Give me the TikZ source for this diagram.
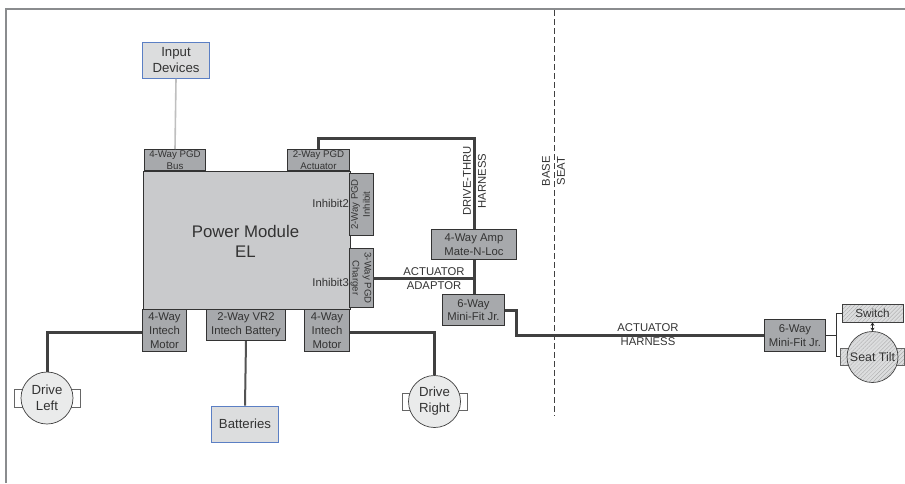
\documentclass[tikz,border=0pt]{standalone}
\usepackage{fontspec}
\setmainfont{Liberation Sans}
\usetikzlibrary{patterns.meta,arrows.meta}
\definecolor{txt}{HTML}{333333}
\definecolor{wire}{HTML}{404040}
\definecolor{conn}{HTML}{A7A9AC}
\definecolor{pm}{HTML}{C9CACC}
\definecolor{soft}{HTML}{DCDDDE}
\definecolor{edgeblue}{HTML}{5B7FC4}
\definecolor{frameg}{HTML}{8A8C8E}
\newcommand{\rottext}[2]{\rotatebox{#1}{\fontsize{9.6}{12}\selectfont\begin{tabular}{@{}c@{}}#2\end{tabular}}}
\tikzset{
  every node/.style={text=txt,align=center,inner sep=0pt},
  small/.style={font=\fontsize{9.7}{12}\selectfont},
  medium/.style={font=\fontsize{11.3}{13.7}\selectfont},
  connbox/.style={draw=black!80,line width=.8pt,fill=conn},
  softbox/.style={draw=edgeblue,line width=.8pt,fill=soft,font=\fontsize{13.2}{16}\selectfont},
  wirethick/.style={draw=wire,line width=3pt},
  wiremid/.style={draw=wire!90,line width=2pt},
  wirethin/.style={draw=black!80,line width=.7pt},
  motorbody/.style={circle,draw=black!75,line width=.7pt,fill=soft!60,minimum size=52pt,font=\fontsize{13.2}{16}\selectfont},
  tabshape/.style={draw=black!60,line width=.7pt,fill=white},
  hatchfill/.style={preaction={fill=soft},pattern={Lines[angle=45,distance=2.8pt,line width=.3pt]},pattern color=black!35},
  wiretext/.style={font=\fontsize{11.3}{13}\selectfont},
}
\begin{document}
\begin{tikzpicture}[x=1pt,y=-1pt]
\useasboundingbox (0,0) rectangle (905,483);
% frame
\coordinate (fbl) at (5.5,483);
\coordinate (ftl) at (5.5,8.5);
\coordinate (ftr) at (905,8.5);
\draw[frameg,line width=2pt] (fbl) -- (ftl) -- (ftr);
% base/seat divider
\coordinate (dtop) at (554.5,10);
\coordinate (dbot) at (554.5,416);
\draw[black!75,line width=.7pt,dash pattern=on 6pt off 3pt] (dtop) -- (dbot);
\node[wiretext] (base) at (546,171) {\rotatebox{90}{BASE}};
\node[wiretext] (seat) at (561,171) {\rotatebox{90}{SEAT}};

% main module
\node[draw=black!80,line width=.8pt,fill=pm,minimum width=207pt,minimum height=138pt] (pmod) at (246.5,240) {};
\node[font=\fontsize{16.8}{20}\selectfont] (pmtext) at (245.5,241) {Power Module\\EL};
\node[anchor=east,medium] (inh2) at (349,203.5) {Inhibit2};
\node[anchor=east,medium] (inh3) at (349,282) {Inhibit3};

% connectors on module
\node[connbox,small,minimum width=61.2pt,minimum height=21.2pt] (bus) at (175,160) {4-Way PGD\\Bus};
\node[connbox,small,minimum width=62.2pt,minimum height=21.2pt] (act) at (318.5,160) {2-Way PGD\\Actuator};
\node[connbox,minimum width=22.2pt,minimum height=62.2pt] (inh) at (361.5,204.5) {\rottext{90}{2-Way PGD\\Inhibit}};
\node[connbox,minimum width=21.2pt,minimum height=59.2pt] (chg) at (361,278) {\rottext{-90}{3-Way PGD\\Charger}};
\node[connbox,medium,minimum width=44.2pt,minimum height=42.2pt] (ml) at (164.5,330.5) {4-Way\\Intech\\Motor};
\node[connbox,medium,minimum width=79.2pt,minimum height=31.2pt] (vr) at (246,325) {2-Way VR2\\Intech Battery};
\node[connbox,medium,minimum width=45.2pt,minimum height=42.2pt] (mr) at (327,330.5) {4-Way\\Intech\\Motor};
\node[connbox,medium,minimum width=85.2pt,minimum height=30.2pt] (amp) at (474,244.5) {4-Way Amp\\Mate-N-Loc};
\node[connbox,medium,minimum width=62.2pt,minimum height=31.2pt] (mfa) at (473.5,310) {6-Way\\Mini-Fit Jr.};
\node[connbox,medium,minimum width=61.2pt,minimum height=32.2pt] (mfb) at (795,335.5) {6-Way\\Mini-Fit Jr.};

% external boxes
\node[softbox,minimum width=67pt,minimum height=36pt] (inp) at (176,60.5) {Input\\Devices};
\node[softbox,minimum width=67pt,minimum height=36pt] (bat) at (245,424) {Batteries};

% motors
\node[tabshape,minimum width=66pt,minimum height=18pt] (tabl) at (47,398) {};
\node[motorbody] (dl) at (47,398) {Drive\\Left};
\node[tabshape,minimum width=65pt,minimum height=17pt] (tabr) at (434.5,401.5) {};
\node[motorbody] (dr) at (434.5,401.5) {Drive\\Right};

% seat tilt and switch
\node[tabshape,hatchfill,minimum width=64pt,minimum height=17pt] (tabs) at (872,356.5) {};
\node[circle,draw=black!75,line width=.7pt,hatchfill,minimum size=51pt] (st) at (872.5,357) {};
\node[font=\fontsize{12.4}{15}\selectfont] (sttext) at (872.5,357) {Seat Tilt};
\node[draw=black!75,line width=.7pt,hatchfill,minimum width=61pt,minimum height=18pt] (sw) at (872.5,313) {};
\node[font=\fontsize{11.7}{14}\selectfont] (swtext) at (872.5,313) {Switch};

% wiring
\draw[draw=black!25!white,line width=1.6pt] (inp.south) -- (bus.north);
\draw[wirethick] (act.north) |- (474,138) -- (amp.north);
\draw[wirethick] (amp.south) -- (amp.south |- mfa.north);
\draw[wirethick] (chg.east) -- (474,278);
\draw[wirethick] (mfa.east) -| (516,335.5) -- (mfb.west);
\draw[wirethick] ([yshift=-1.5pt]ml.west) -| (dl.north);
\draw[wirethick] ([yshift=-1.5pt]mr.east) -| (dr.north);
\draw[wiremid] (vr.south) -- (bat.north);
\draw[wirethin] (mfb.east) -- (836,335.5) |- (sw.west);
\draw[wirethin] (836,335.5) |- (tabs.west);
\draw[draw=black!85,line width=.9pt,{Stealth[length=3.5pt,width=4pt]}-{Stealth[length=3.5pt,width=4pt]}] (sw.south) -- (st.north);

% wire labels
\node[wiretext] (dthru) at (467,181) {\rotatebox{90}{DRIVE-THRU}};
\node[wiretext] (dharn) at (482,181) {\rotatebox{90}{HARNESS}};
\node[wiretext] (aact) at (434,272) {ACTUATOR};
\node[wiretext] (aad) at (434,286) {ADAPTOR};
\node[wiretext] (hact) at (648,328) {ACTUATOR};
\node[wiretext] (hhar) at (648,342) {HARNESS};
\end{tikzpicture}
\end{document}
